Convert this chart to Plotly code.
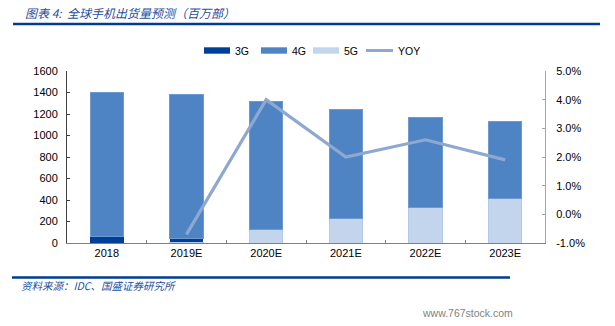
import plotly.graph_objects as go

# Global handset shipments by technology (million units) and YoY growth (%)
years = ["2018", "2019E", "2020E", "2021E", "2022E", "2023E"]
shipments_3g = [62, 32, 0, 0, 0, 0]
shipments_4g = [1338, 1338, 1185, 1008, 842, 716]
shipments_5g = [0, 8, 130, 230, 330, 410]
yoy_pct = [None, -0.7, 4.0, 2.0, 2.6, 1.9]

left_ticks = list(range(0, 1601, 200))
right_ticks = [-1, 0, 1, 2, 3, 4, 5]

C3G = "#003f97"
C4G = "#4f84c4"
C5G = "#c3d5ec"
CYOY = "#8ea8d2"
NAVY = "#003d8f"
TXT = "#1f4f9f"

W, H = 615, 326
L, R, T, B = 67, 70, 71, 83
PW, PH = W - L - R, H - T - B


def px(x):
    return (x - L) / PW


def py(y):
    return (H - B - y) / PH


tick_font = dict(family="Liberation Sans, Arial, sans-serif", size=11, color="#000000")

fig = go.Figure()
# 5G sits at the base of each column, then 3G, then 4G on top
fig.add_trace(go.Bar(x=years, y=shipments_5g, name="5G", width=0.42,
                     marker=dict(color=C5G, line=dict(color="#b3c8e6", width=1))))
fig.add_trace(go.Bar(x=years, y=shipments_3g, name="3G", width=0.42,
                     marker=dict(color=C3G, line=dict(color=C3G, width=0))))
fig.add_trace(go.Bar(x=years, y=shipments_4g, name="4G", width=0.42,
                     marker=dict(color=C4G, line=dict(color="#6f9ad0", width=1))))
fig.add_trace(go.Scatter(x=years, y=yoy_pct, name="YOY", yaxis="y2", mode="lines",
                         line=dict(color=CYOY, width=3.2), connectgaps=False))

fig.update_layout(
    width=W, height=H,
    margin=dict(l=L, r=R, t=T, b=B, pad=0),
    paper_bgcolor="white", plot_bgcolor="white",
    barmode="stack",
    showlegend=False,
    xaxis=dict(type="category", range=[-0.5, 5.5], showline=True, linecolor="#7f7f7f",
               linewidth=1, ticks="inside", tickson="boundaries", ticklen=3,
               tickcolor="#7f7f7f", showgrid=False, tickfont=tick_font),
    yaxis=dict(range=[0, 1600], tickvals=left_ticks, showline=True, linecolor="#404040",
               linewidth=1, ticks="inside", ticklen=3, tickcolor="#404040",
               showgrid=False, zeroline=False, tickfont=tick_font, ticklabelstandoff=6),
    yaxis2=dict(range=[-1, 5], tickvals=right_ticks,
                ticktext=[f"{v:.1f}%" for v in right_ticks],
                overlaying="y", side="right", showline=True, linecolor="#a6a6a6",
                linewidth=1, ticks="inside", ticklen=3, tickcolor="#a6a6a6",
                showgrid=False, zeroline=False, tickfont=tick_font, ticklabelstandoff=8),
)

shapes = []
annotations = []

# header and footer rules
shapes.append(dict(type="line", xref="paper", yref="paper", x0=px(13), x1=px(600),
                   y0=py(24), y1=py(24), line=dict(color=NAVY, width=2.5)))
shapes.append(dict(type="line", xref="paper", yref="paper", x0=px(12), x1=px(510),
                   y0=py(277.5), y1=py(277.5), line=dict(color=NAVY, width=2.5)))

cjk = "Noto Sans CJK SC, sans-serif"
annotations.append(dict(text="图表 4:  全球手机出货量预测（百万部）", xref="paper", yref="paper",
                        x=px(23), y=py(12), xanchor="left", yanchor="middle", showarrow=False,
                        font=dict(family=cjk, size=12, color=TXT, style="italic")))
annotations.append(dict(text="资料来源：IDC、国盛证券研究所", xref="paper", yref="paper",
                        x=px(19), y=py(285), xanchor="left", yanchor="middle", showarrow=False,
                        font=dict(family=cjk, size=10.5, color=TXT, style="italic")))
annotations.append(dict(text="www.767stock.com", xref="paper", yref="paper",
                        x=px(515), y=py(313), xanchor="right", yanchor="middle", showarrow=False,
                        font=dict(family="Liberation Sans, Arial, sans-serif", size=10.5,
                                  color="#7f7f7f")))

# legend row
legend_font = dict(family="Liberation Sans, Arial, sans-serif", size=10.5, color="#000000")
ly = 50.5
for x0, label, color in [(204, "3G", C3G), (261, "4G", C4G), (313, "5G", C5G)]:
    shapes.append(dict(type="rect", xref="paper", yref="paper", x0=px(x0), x1=px(x0 + 26),
                       y0=py(ly + 3.2), y1=py(ly - 3.2), fillcolor=color, line=dict(width=0)))
    annotations.append(dict(text=label, xref="paper", yref="paper", x=px(x0 + 28.5), y=py(ly),
                            xanchor="left", yanchor="middle", showarrow=False, font=legend_font))
shapes.append(dict(type="line", xref="paper", yref="paper", x0=px(366), x1=px(393),
                   y0=py(ly), y1=py(ly), line=dict(color=CYOY, width=3)))
annotations.append(dict(text="YOY", xref="paper", yref="paper", x=px(395.5), y=py(ly),
                        xanchor="left", yanchor="middle", showarrow=False, font=legend_font))

fig.update_layout(shapes=shapes, annotations=annotations)

fig.write_html("out.html")
